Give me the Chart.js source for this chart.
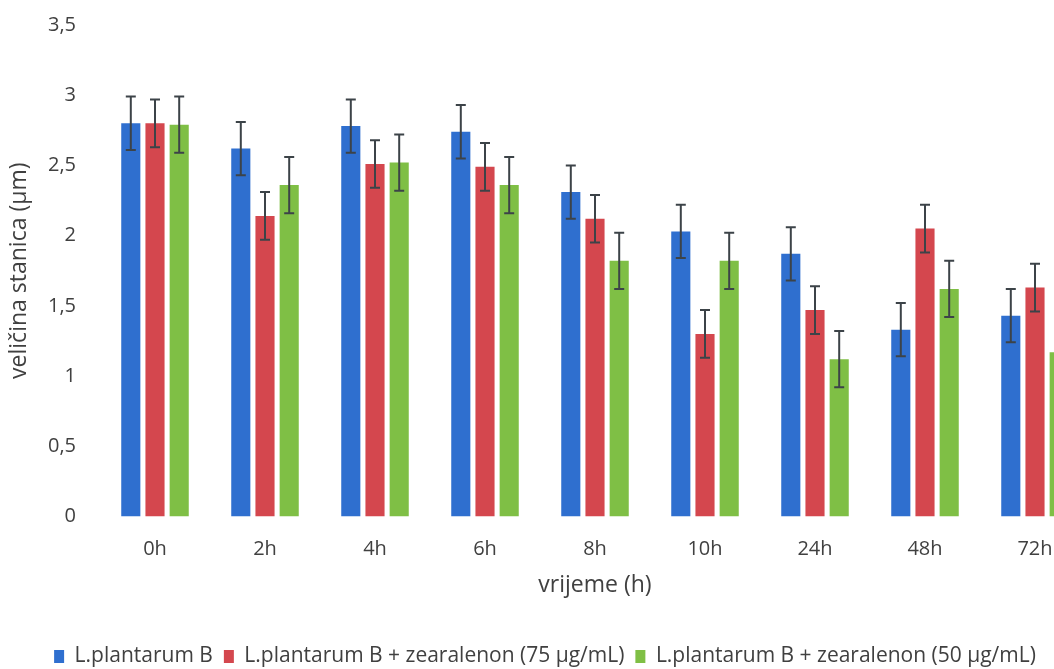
<!DOCTYPE html>
<html>
<head>
  <title>Veličina stanica</title>
  <script src="https://cdn.jsdelivr.net/npm/chart.js"></script>
  <style>
    body { margin: 0; overflow: hidden; background: #fff; }
    #wrap { width: 1090px; height: 669px; }
  </style>
</head>
<body>
<div id="wrap"><canvas id="cellChart"></canvas></div>
<script>
const labels = ['0h', '2h', '4h', '6h', '8h', '10h', '24h', '48h', '72h'];
const plantarum = [2.80, 2.62, 2.78, 2.74, 2.31, 2.03, 1.87, 1.33, 1.43];
const zea75 = [2.80, 2.14, 2.51, 2.49, 2.12, 1.30, 1.47, 2.05, 1.63];
const zea50 = [2.79, 2.36, 2.52, 2.36, 1.82, 1.82, 1.12, 1.62, 1.17];
const errPlantarum = [0.19, 0.19, 0.19, 0.19, 0.19, 0.19, 0.19, 0.19, 0.19];
const err75 = [0.17, 0.17, 0.17, 0.17, 0.17, 0.17, 0.17, 0.17, 0.17];
const err50 = [0.20, 0.20, 0.20, 0.20, 0.20, 0.20, 0.20, 0.20, 0.20];

const font = '"Open Sans", sans-serif';

// draws the +/- error bars on top of each bar
const errorBars = {
  id: 'errorBars',
  afterDatasetsDraw(chart) {
    const ctx = chart.ctx;
    const y = chart.scales.y;
    ctx.save();
    ctx.strokeStyle = '#3c4348';
    ctx.lineWidth = 2;
    chart.data.datasets.forEach((ds, i) => {
      const meta = chart.getDatasetMeta(i);
      meta.data.forEach((bar, j) => {
        const v = ds.data[j], e = ds.errors[j];
        const top = y.getPixelForValue(v + e);
        const bot = y.getPixelForValue(v - e);
        ctx.beginPath();
        ctx.moveTo(bar.x, top); ctx.lineTo(bar.x, bot);
        ctx.moveTo(bar.x - 5, top); ctx.lineTo(bar.x + 5, top);
        ctx.moveTo(bar.x - 5, bot); ctx.lineTo(bar.x + 5, bot);
        ctx.stroke();
      });
    });
    ctx.restore();
  }
};

new Chart(document.getElementById('cellChart'), {
  type: 'bar',
  data: {
    labels: labels,
    datasets: [
      { label: 'L.plantarum B', data: plantarum, errors: errPlantarum, backgroundColor: '#2f6fcf' },
      { label: 'L.plantarum B + zearalenon (75 µg/mL)', data: zea75, errors: err75, backgroundColor: '#d4474e' },
      { label: 'L.plantarum B + zearalenon (50 µg/mL)', data: zea50, errors: err50, backgroundColor: '#7fbf45' }
    ]
  },
  options: {
    responsive: true,
    maintainAspectRatio: false,
    animation: false,
    categoryPercentage: 0.66,
    barPercentage: 0.79,
    layout: { padding: { top: 25, right: 0, bottom: -8, left: 0 } },
    plugins: {
      tooltip: { enabled: false },
      legend: {
        position: 'bottom',
        labels: {
          font: { family: font, size: 21 },
          color: '#404040',
          boxWidth: 10,
          boxHeight: 13,
          padding: 11
        }
      }
    },
    scales: {
      x: {
        grid: { display: false, drawTicks: false },
        border: { display: false },
        ticks: { font: { family: font, size: 20 }, color: '#404040', padding: 21 },
        title: { display: true, text: 'vrijeme (h)', font: { family: font, size: 23 }, color: '#404040', padding: { top: -11, bottom: 36 } }
      },
      y: {
        min: 0,
        max: 3.5,
        grid: { display: false, drawTicks: false },
        border: { display: false },
        ticks: {
          stepSize: 0.5,
          font: { family: font, size: 20 },
          color: '#404040',
          padding: 24,
          callback: v => v.toString().replace('.', ',')
        },
        title: { display: true, text: 'veličina stanica (µm)', font: { family: font, size: 23 }, color: '#404040', padding: { top: 6, bottom: 4 } },
        afterFit: s => { s.width = 100; s.paddingTop = 0; s.paddingBottom = 0; }
      }
    }
  },
  plugins: [errorBars]
});
</script>
</body>
</html>
